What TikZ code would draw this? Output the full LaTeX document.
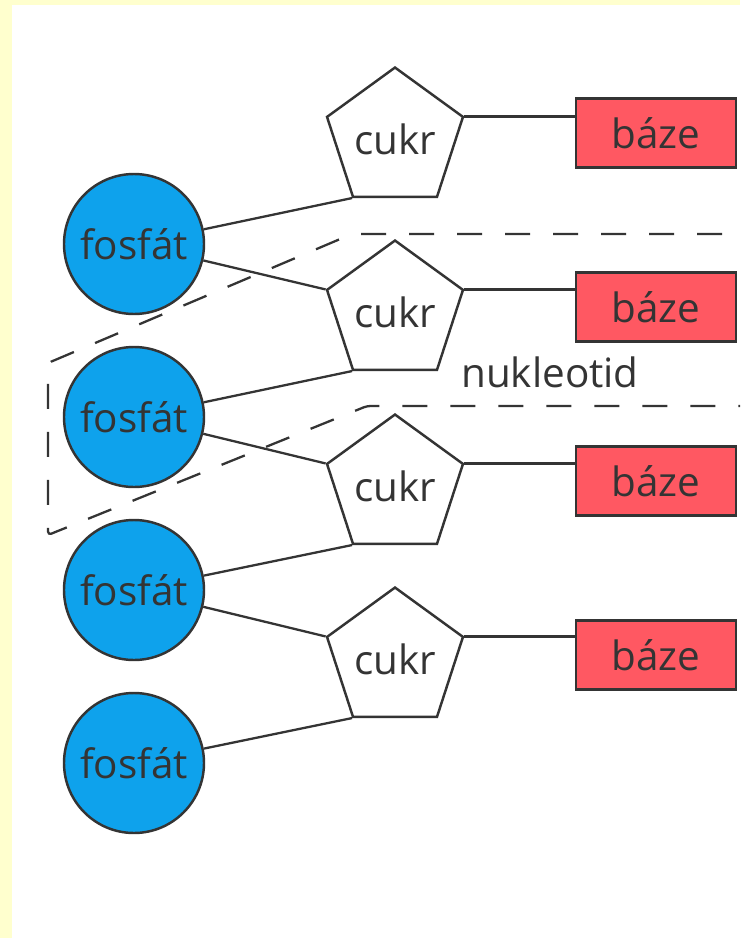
\documentclass[tikz,border=0pt]{standalone}
\usepackage{fontspec}
\setmainfont{Open Sans}
\usepackage{xcolor}
\usepackage{tikz}
\usetikzlibrary{shapes.geometric, calc}
\definecolor{fosBlue}{RGB}{14,162,236}
\definecolor{bazeRed}{RGB}{255,88,98}
\definecolor{inkGray}{RGB}{52,52,52}
\definecolor{paperYellow}{RGB}{255,255,206}

\begin{document}
\begin{tikzpicture}[
    fosfat/.style={circle,draw=inkGray,fill=fosBlue,line width=1.4pt,
      minimum size=2.8cm,inner sep=0pt,font=\fontsize{23}{27}\selectfont,text=inkGray},
    cukr/.style={regular polygon,regular polygon sides=5,draw=inkGray,fill=white,
      line width=1.4pt,minimum size=2.8cm,inner sep=0pt,
      font=\fontsize{23}{27}\selectfont,text=inkGray},
    baze/.style={draw=inkGray,fill=bazeRed,line width=1.4pt,minimum width=3.2cm,
      minimum height=1.38cm,inner sep=0pt,font=\fontsize{23}{27}\selectfont,text=inkGray},
    bond/.style={draw=inkGray,line width=1.3pt},
    nukl/.style={draw=inkGray,line width=1.3pt,dash pattern=on 0.5cm off 0.46cm,
      rounded corners=2pt}
  ]

  % paper
  \fill[paperYellow] (0,0) rectangle (14.8,-18.76);
  \fill[white] (0.24,-0.1) rectangle (14.8,-18.76);
  \useasboundingbox (0,0) rectangle (14.8,-18.76);

  % row 1
  \node[cukr] (c1) at (7.9,-2.78) {cukr};
  \node[baze] (b1) at (13.12,-2.66) {báze};
  \node[fosfat] (f1) at (2.68,-4.88) {fosfát};

  % row 2
  \node[cukr] (c2) at (7.9,-6.24) {cukr};
  \node[baze] (b2) at (13.12,-6.14) {báze};
  \node[fosfat] (f2) at (2.68,-8.34) {fosfát};

  % row 3
  \node[cukr] (c3) at (7.9,-9.72) {cukr};
  \node[baze] (b3) at (13.12,-9.62) {báze};
  \node[fosfat] (f3) at (2.68,-11.80) {fosfát};

  % row 4
  \node[cukr] (c4) at (7.9,-13.18) {cukr};
  \node[baze] (b4) at (13.12,-13.10) {báze};
  \node[fosfat] (f4) at (2.68,-15.26) {fosfát};

  % sugar -- base
  \draw[bond] (c1.corner 5) -- (c1.corner 5 -| b1.west);
  \draw[bond] (c2.corner 5) -- (c2.corner 5 -| b2.west);
  \draw[bond] (c3.corner 5) -- (c3.corner 5 -| b3.west);
  \draw[bond] (c4.corner 5) -- (c4.corner 5 -| b4.west);

  % phosphate -- sugar
  \draw[bond] (f1) -- (c1.corner 3);
  \draw[bond] (f1) -- (c2.corner 2);
  \draw[bond] (f2) -- (c2.corner 3);
  \draw[bond] (f2) -- (c3.corner 2);
  \draw[bond] (f3) -- (c3.corner 3);
  \draw[bond] (f3) -- (c4.corner 2);
  \draw[bond] (f4) -- (c4.corner 3);

  % nucleotide outline
  \draw[nukl] (14.44,-4.68) -- (7.04,-4.68) -- (0.96,-7.26) -- (0.96,-10.70)
    -- (7.34,-8.12) -- (14.8,-8.12);
  \node[font=\fontsize{23}{27}\selectfont,text=inkGray] (nuklabel) at (11.0,-7.44) {nukleotid};
\end{tikzpicture}
\end{document}
